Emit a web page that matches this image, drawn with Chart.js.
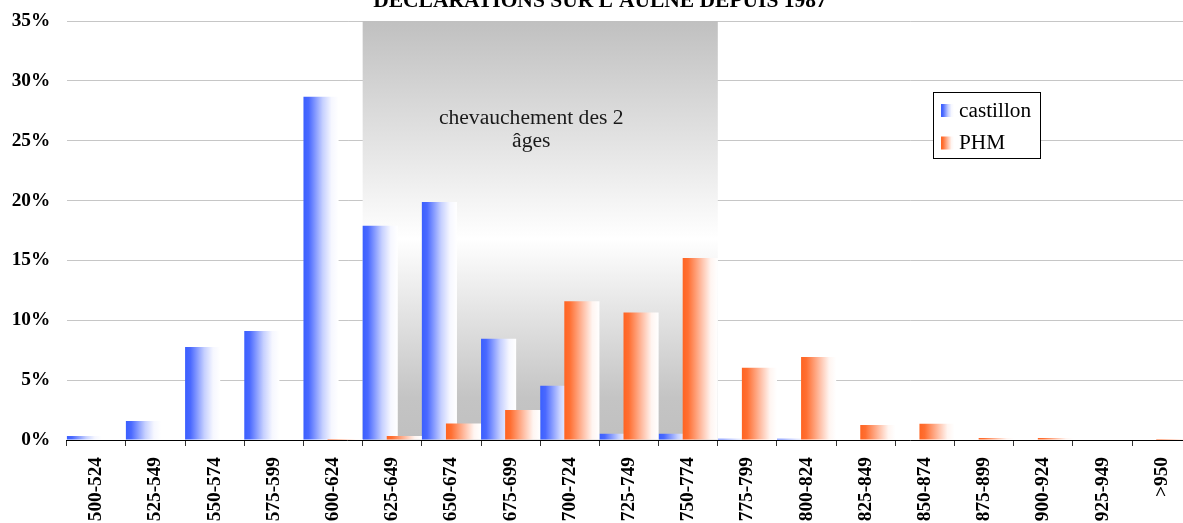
<!DOCTYPE html>
<html lang="fr">
<head>
<meta charset="utf-8">
<title>Déclarations sur l'Aulne depuis 1987</title>
<script src="https://cdn.jsdelivr.net/npm/chart.js@4.4.1/dist/chart.umd.min.js"></script>
<style>
    html, body { margin: 0; padding: 0; background: #fff; }
    #wrap { width: 1183px; height: 523px; overflow: hidden; }
    #chart { display: block; }
</style>
</head>
<body>
<div id="wrap"><canvas id="chart" width="1196" height="523"></canvas></div>
<script>
const categories = ['500-524', '525-549', '550-574', '575-599', '600-624', '625-649', '650-674',
    '675-699', '700-724', '725-749', '750-774', '775-799', '800-824', '825-849', '850-874',
    '875-899', '900-924', '925-949', '>950'];
const castillon = [0.33, 1.59, 7.77, 9.1, 28.68, 17.9, 19.88, 8.46, 4.54, 0.53, 0.53, 0.1, 0.1, 0, 0, 0, 0, 0, 0];
const phm = [0, 0, 0, 0, 0.08, 0.33, 1.37, 2.5, 11.6, 10.64, 15.2, 6.04, 6.93, 1.25, 1.36, 0.17, 0.17, 0, 0.08];
const yMax = 35;
const yStep = 5;
const chartTitle = "DÉCLARATIONS SUR L'AULNE DEPUIS 1987";
const overlapText = ['chevauchement des 2', 'âges'];
const overlapRange = ['625-649', '750-774'];

// bars overlap a bit inside each category, like the original spreadsheet chart
const CAT_PCT = 48 / 59;
const BAR_PCT = 35 / 24;

const BLUE = [[0, '#3a5fff'], [0.15, '#4a69ff'], [0.55, '#c6d0ff'], [0.8, '#f6f7ff'], [1, '#ffffff']];
const ORANGE = [[0, '#ff6422'], [0.15, '#ff6f32'], [0.55, '#ffc2aa'], [0.8, '#fff5f1'], [1, '#ffffff']];

const SERIF = '"Liberation Serif", "Times New Roman", serif';

function gradientFrom(ctx, x0, x1, stops) {
    const g = ctx.createLinearGradient(x0, 0, x1, 0);
    stops.forEach(([o, c]) => g.addColorStop(o, c));
    return g;
}

function barFill(context, stops) {
    const { chart, dataIndex, datasetIndex } = context;
    const x = chart.scales.x;
    if (!x || !x.width || dataIndex === undefined) return stops[0][1];
    const w = x.width / categories.length;
    const size = w * CAT_PCT;
    const chunk = size / 2;
    const barW = chunk * BAR_PCT;
    const center = x.getPixelForValue(dataIndex) - size / 2 + chunk * (datasetIndex + 0.5);
    const left = center - barW / 2;
    return gradientFrom(chart.ctx, left, left + barW, stops);
}

const overlapBox = {
    id: 'overlapBox',
    beforeDatasetsDraw(chart) {
        const { ctx, chartArea, scales: { x } } = chart;
        const w = x.width / categories.length;
        const left = x.getPixelForValue(categories.indexOf(overlapRange[0])) - w / 2;
        const right = x.getPixelForValue(categories.indexOf(overlapRange[1])) + w / 2;
        const top = chartArea.top;
        const bottom = chartArea.bottom - 0.5;

        ctx.save();
        const g = ctx.createLinearGradient(0, top, 0, bottom);
        g.addColorStop(0, '#c0c0c0');
        g.addColorStop(0.52, '#ffffff');
        g.addColorStop(0.9, '#c4c4c4');
        g.addColorStop(1, '#c0c0c0');
        ctx.fillStyle = g;
        ctx.fillRect(left, top, right - left, bottom - top);

        ctx.fillStyle = '#1a1a1a';
        ctx.font = `21.6px ${SERIF}`;
        ctx.textAlign = 'center';
        ctx.textBaseline = 'alphabetic';
        const cx = (left + right) / 2 - 9;
        ctx.fillText(overlapText[0], cx, top + 103);
        ctx.fillText(overlapText[1], cx, top + 126);

        // draw the series in index order so PHM sits over castillon
        ctx.beginPath();
        ctx.rect(chartArea.left, chartArea.top - 1, chartArea.right - chartArea.left, chartArea.bottom - chartArea.top + 1);
        ctx.clip();
        chart.getSortedVisibleDatasetMetas()
            .slice()
            .sort((a, b) => a.index - b.index)
            .forEach(meta => meta.controller.draw());
        ctx.restore();
        return false;
    }
};

const titleAndLegend = {
    id: 'titleAndLegend',
    afterDraw(chart) {
        const { ctx } = chart;
        ctx.save();

        ctx.fillStyle = '#000';
        ctx.font = `bold 21.5px ${SERIF}`;
        ctx.textAlign = 'center';
        ctx.textBaseline = 'alphabetic';
        ctx.fillText(chartTitle, 600, 6.5);

        const bx = 933.5, by = 92.5, bw = 107, bh = 66;
        ctx.fillStyle = '#fff';
        ctx.fillRect(bx, by, bw, bh);
        ctx.strokeStyle = '#000';
        ctx.lineWidth = 1;
        ctx.strokeRect(bx, by, bw, bh);

        ctx.font = `21.3px ${SERIF}`;
        ctx.textAlign = 'left';
        const items = chart.data.datasets.map((ds, i) => ({ label: ds.label, stops: i === 0 ? BLUE : ORANGE }));
        items.forEach((item, i) => {
            const sy = 104 + i * 32.5;
            ctx.fillStyle = gradientFrom(ctx, 941, 954, item.stops);
            ctx.fillRect(941, sy, 13, 13);
            ctx.fillStyle = '#000';
            ctx.fillText(item.label, 959, 116.7 + i * 32.5);
        });
        ctx.restore();
    }
};

const tickFont = { family: SERIF, size: 19.3, weight: 'bold' };

new Chart(document.getElementById('chart'), {
    type: 'bar',
    data: {
        labels: categories,
        datasets: [
            { label: 'castillon', data: castillon, backgroundColor: c => barFill(c, BLUE) },
            { label: 'PHM', data: phm, backgroundColor: c => barFill(c, ORANGE) }
        ]
    },
    options: {
        responsive: false,
        animation: false,
        events: [],
        layout: { padding: { top: 21, right: 4, bottom: 0, left: 0 } },
        datasets: {
            bar: { categoryPercentage: CAT_PCT, barPercentage: BAR_PCT, borderWidth: 0 }
        },
        plugins: {
            legend: { display: false },
            title: { display: false },
            tooltip: { enabled: false }
        },
        scales: {
            x: {
                offset: true,
                grid: { offset: true, drawOnChartArea: false, drawTicks: true, tickLength: 6, tickColor: '#333' },
                border: { display: true, color: '#000', width: 1 },
                ticks: { autoSkip: false, minRotation: 90, maxRotation: 90, padding: 11, color: '#000', font: tickFont },
                afterFit(scale) { scale.height = 83; }
            },
            y: {
                min: 0,
                max: yMax,
                ticks: { stepSize: yStep, padding: 16.5, color: '#000', font: tickFont, callback: v => v + '%' },
                grid: { color: '#c6c6c6', drawTicks: false },
                border: { display: false },
                afterFit(scale) {
                    scale.width = 66.7;
                    // tick padding would otherwise push the plot top down
                    scale.paddingTop = 0;
                    scale.paddingBottom = 0;
                }
            }
        }
    },
    plugins: [overlapBox, titleAndLegend]
});
</script>
</body>
</html>
